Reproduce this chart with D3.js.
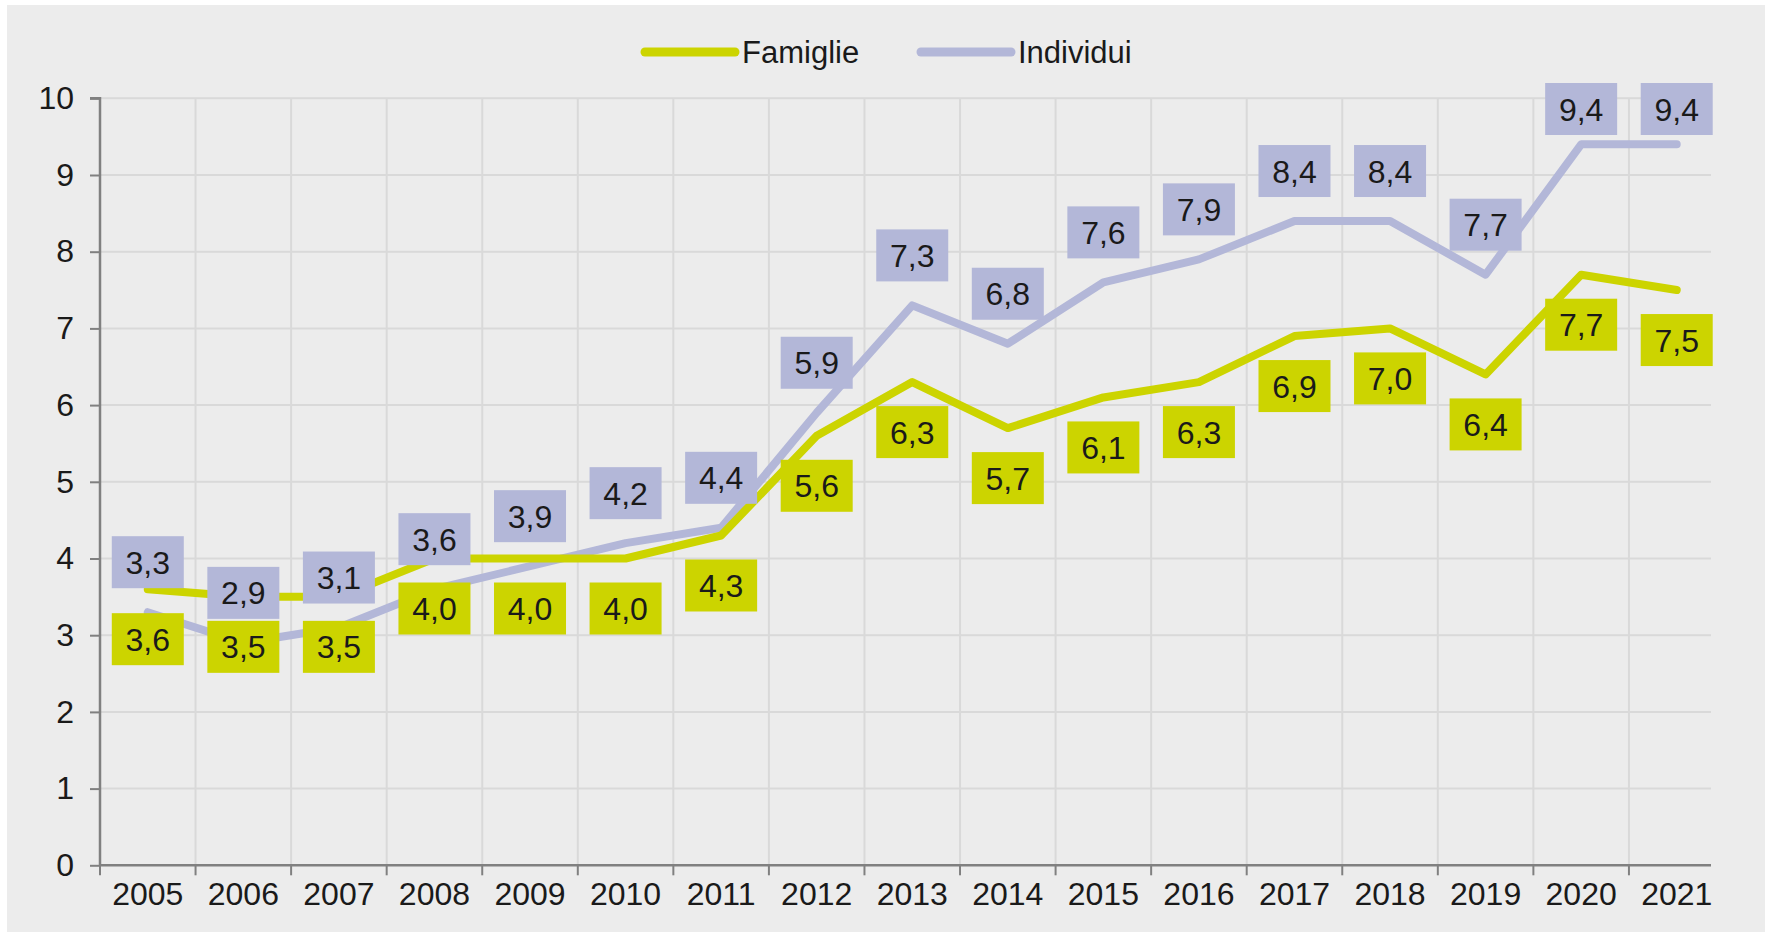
<!DOCTYPE html>
<html>
<head>
<meta charset="utf-8">
<script src="https://cdn.jsdelivr.net/npm/d3@7"></script>
<style>
  html, body { margin: 0; padding: 0; background: #ffffff; }
  svg { display: block; }
  text { font-family: "Liberation Sans", Arial, sans-serif; fill: #1a1a1a; }
</style>
</head>
<body>
<svg id="chart" width="1768" height="934"></svg>
<script>
const years = ["2005","2006","2007","2008","2009","2010","2011","2012","2013","2014","2015","2016","2017","2018","2019","2020","2021"];
const famiglie = [3.6, 3.5, 3.5, 4.0, 4.0, 4.0, 4.3, 5.6, 6.3, 5.7, 6.1, 6.3, 6.9, 7.0, 6.4, 7.7, 7.5];
const individui = [3.3, 2.9, 3.1, 3.6, 3.9, 4.2, 4.4, 5.9, 7.3, 6.8, 7.6, 7.9, 8.4, 8.4, 7.7, 9.4, 9.4];
const yTicks = [0,1,2,3,4,5,6,7,8,9,10];
const seriesNames = ["Famiglie", "Individui"];

const colFam = "#ccd400";
const colInd = "#b3b7d8";

const svg = d3.select("#chart");

// panel background
svg.append("rect").attr("x", 7).attr("y", 5).attr("width", 1758).attr("height", 927).attr("fill", "#ececec");

const x = d3.scaleBand().domain(years).range([100, 1724.5]).paddingInner(0).paddingOuter(0);
const y = d3.scaleLinear().domain([0, 10]).range([865.3, 98.3]);
const xEnd = 1711;
const cx = d => x(d) + x.bandwidth() / 2;

// horizontal gridlines
svg.append("g").selectAll("line").data(yTicks.filter(t => t > 0)).join("line")
  .attr("x1", 100).attr("x2", xEnd)
  .attr("y1", d => y(d)).attr("y2", d => y(d))
  .attr("stroke", "#d9d9d9").attr("stroke-width", 2);

// vertical gridlines at category boundaries
svg.append("g").selectAll("line").data(years.slice(1)).join("line")
  .attr("x1", d => x(d)).attr("x2", d => x(d))
  .attr("y1", y(10)).attr("y2", y(0))
  .attr("stroke", "#d9d9d9").attr("stroke-width", 2);

// y axis
const yAxis = d3.axisLeft(y).tickValues(yTicks).tickSize(10).tickPadding(16).tickFormat(d3.format("d"));
const gy = svg.append("g").attr("transform", "translate(100,0)").call(yAxis);
gy.select(".domain").attr("stroke", "#808080").attr("stroke-width", 2.5).attr("d", `M-10,${y(10)}H0V${y(0)}`);
gy.selectAll(".tick line").attr("stroke", "#808080").attr("stroke-width", 2);
gy.selectAll(".tick text").attr("font-size", 32).attr("fill", "#1a1a1a").style("font-family", '"Liberation Sans", Arial, sans-serif');

// x axis
const xAxis = d3.axisBottom(x).tickSize(0).tickPadding(16);
const gx = svg.append("g").attr("transform", `translate(0,${y(0)})`).call(xAxis);
gx.select(".domain").attr("stroke", "#808080").attr("stroke-width", 2.5).attr("d", `M100,0H${xEnd}`);
gx.selectAll(".tick text").attr("font-size", 32).attr("fill", "#1a1a1a").attr("dy", "0.75em").style("font-family", '"Liberation Sans", Arial, sans-serif');
// boundary tick marks
svg.append("g").selectAll("line").data(years).join("line")
  .attr("x1", d => x(d)).attr("x2", d => x(d))
  .attr("y1", y(0)).attr("y2", y(0) + 10)
  .attr("stroke", "#808080").attr("stroke-width", 2);

// lines
const line = d3.line().x((d, i) => cx(years[i])).y(d => y(d));
svg.append("path").datum(individui).attr("d", line).attr("fill", "none")
  .attr("stroke", colInd).attr("stroke-width", 8).attr("stroke-linecap", "round").attr("stroke-linejoin", "round");
svg.append("path").datum(famiglie).attr("d", line).attr("fill", "none")
  .attr("stroke", colFam).attr("stroke-width", 8).attr("stroke-linecap", "round").attr("stroke-linejoin", "round");

// data labels
const boxW = 72, boxH = 52, off = 50;
const fmt = v => d3.format(".1f")(v).replace(".", ",");
function labels(data, color, above) {
  const g = svg.append("g").selectAll("g").data(data).join("g")
    .attr("transform", (d, i) => {
      let cy = above ? y(d) - off : y(d) + off;
      if (cy - boxH / 2 < 83) cy = 83 + boxH / 2;
      return `translate(${cx(years[i])},${cy})`;
    });
  g.append("rect").attr("x", -boxW / 2).attr("y", -boxH / 2).attr("width", boxW).attr("height", boxH).attr("fill", color);
  g.append("text").attr("text-anchor", "middle").attr("dy", "0.36em").attr("font-size", 32).attr("fill", "#1a1a1a").text(d => fmt(d));
}
labels(individui, colInd, true);
labels(famiglie, colFam, false);

// legend
const leg = [
  { name: seriesNames[0], color: colFam, x0: 645 },
  { name: seriesNames[1], color: colInd, x0: 921 }
];
const lg = svg.append("g").selectAll("g").data(leg).join("g").attr("transform", d => `translate(${d.x0},52)`);
lg.append("line").attr("x1", 0).attr("x2", 90).attr("y1", 0).attr("y2", 0)
  .attr("stroke", d => d.color).attr("stroke-width", 9).attr("stroke-linecap", "round");
lg.append("text").attr("x", 97).attr("dy", "0.36em").attr("font-size", 31).attr("fill", "#1a1a1a").text(d => d.name);
</script>
</body>
</html>
